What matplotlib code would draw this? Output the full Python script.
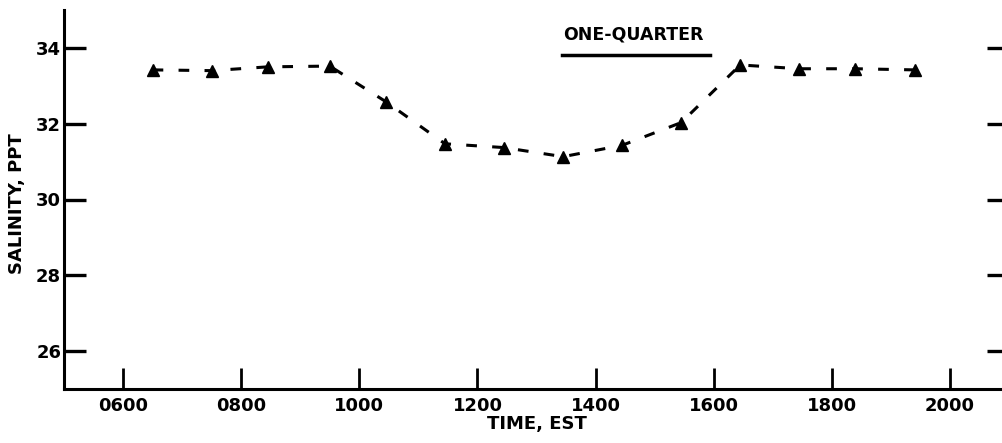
import matplotlib
matplotlib.use("Agg")
import matplotlib.pyplot as plt
from matplotlib.lines import Line2D

# times (EST, hhmm as plotted) and salinity readings, ppt
times = [650, 750, 845, 950, 1045, 1145, 1245, 1345, 1445, 1545, 1645, 1745, 1840, 1940]
salinity = [33.42, 33.40, 33.50, 33.52, 32.58, 31.47, 31.37, 31.13, 31.43, 32.03,
            33.55, 33.45, 33.45, 33.42]

xticks = [600, 800, 1000, 1200, 1400, 1600, 1800, 2000]
xtick_labels = ["0600", "0800", "1000", "1200", "1400", "1600", "1800", "2000"]
yticks = [26, 28, 30, 32, 34]

plt.rcParams["font.family"] = ["DejaVu Sans"]
plt.rcParams["font.weight"] = "bold"

fig = plt.figure(figsize=(10.03, 4.43), dpi=100)
ax = fig.add_axes([64 / 1003, 1 - 389 / 443, 945 / 1003, 379 / 443])

ax.plot(times, salinity, color="black", lw=2.2, linestyle=(0, (3.5, 5)),
        marker="^", markersize=8, markerfacecolor="black", markeredgecolor="black")

ax.set_xlim(500, 2100)
ax.set_ylim(25, 35)
ax.set_xticks(xticks)
ax.set_xticklabels(xtick_labels)
ax.set_yticks(yticks)

for s in ["top", "right"]:
    ax.spines[s].set_visible(False)
for s in ["left", "bottom"]:
    ax.spines[s].set_linewidth(2.2)

ax.tick_params(axis="x", direction="in", length=15, width=2, labelsize=13, pad=6)
ax.tick_params(axis="y", direction="in", length=16, width=2.4, labelsize=13,
               pad=2, right=True)

ax.set_xlabel("TIME, EST", fontsize=13, fontweight="bold", labelpad=0)
ax.set_ylabel("SALINITY, PPT", fontsize=13, fontweight="bold")
ax.yaxis.set_label_coords(-0.04, 0.49)

fig.text(633 / 1003, 1 - 35 / 443, "ONE-QUARTER", ha="center", va="center",
         fontsize=12.5, fontweight="bold")
fig.add_artist(Line2D([562 / 1003, 710 / 1003], [1 - 55 / 443, 1 - 55 / 443],
                      color="black", lw=2.5, transform=fig.transFigure))

fig.savefig("out.png", dpi=100)
